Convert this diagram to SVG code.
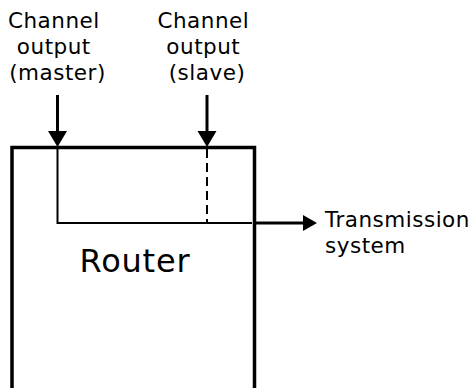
<svg xmlns="http://www.w3.org/2000/svg" width="473" height="388" viewBox="0 0 473 388">
  <style>
    .lbl { font-family: "DejaVu Sans", Verdana, sans-serif; font-size: 21.5px; letter-spacing: 0.5px; fill: #000; }
    .big { font-family: "DejaVu Sans", Verdana, sans-serif; font-size: 32px; letter-spacing: 0.8px; fill: #000; }
    .box { fill: none; stroke: #000; stroke-width: 3.5; }
    .thin { fill: none; stroke: #000; stroke-width: 2; }
    .shaft { fill: none; stroke: #000; stroke-width: 3; }
    .head { fill: #000; stroke: none; }
  </style>
  <rect width="473" height="388" fill="#fff"/>

  <g id="router">
    <path class="box" d="M12,392 V147.5 H254.5 V392"/>
    <text class="big" x="135" y="272" text-anchor="middle">Router</text>
  </g>

  <g id="master-label">
    <text class="lbl" text-anchor="middle">
      <tspan x="57.5" y="28">Channel</tspan>
      <tspan x="57.5" y="54">output</tspan>
      <tspan x="57.5" y="80">(master)</tspan>
    </text>
  </g>

  <g id="slave-label">
    <text class="lbl" text-anchor="middle">
      <tspan x="207" y="28">Channel</tspan>
      <tspan x="207" y="54">output</tspan>
      <tspan x="207" y="80">(slave)</tspan>
    </text>
  </g>

  <g id="transmission">
    <text class="lbl">
      <tspan x="325" y="227">Transmission</tspan>
      <tspan x="325" y="253">system</tspan>
    </text>
  </g>

  <g id="connectors">
    <!-- master input arrow -->
    <line class="shaft" x1="57.5" y1="95" x2="57.5" y2="133"/>
    <polygon class="head" points="48,131 67,131 57.5,147"/>
    <!-- slave input arrow -->
    <line class="shaft" x1="207" y1="95" x2="207" y2="133"/>
    <polygon class="head" points="197.5,131 216.5,131 207,147"/>
    <!-- internal master path -->
    <path class="thin" d="M57.5,149 V223 H252"/>
    <!-- internal slave path (dashed) -->
    <line class="thin" x1="207" y1="149" x2="207" y2="223" stroke-dasharray="9,5" stroke-width="1.6"/>
    <!-- output arrow -->
    <line class="shaft" x1="256" y1="223" x2="305" y2="223"/>
    <polygon class="head" points="303,215 303,231 317,223"/>
  </g>
</svg>
